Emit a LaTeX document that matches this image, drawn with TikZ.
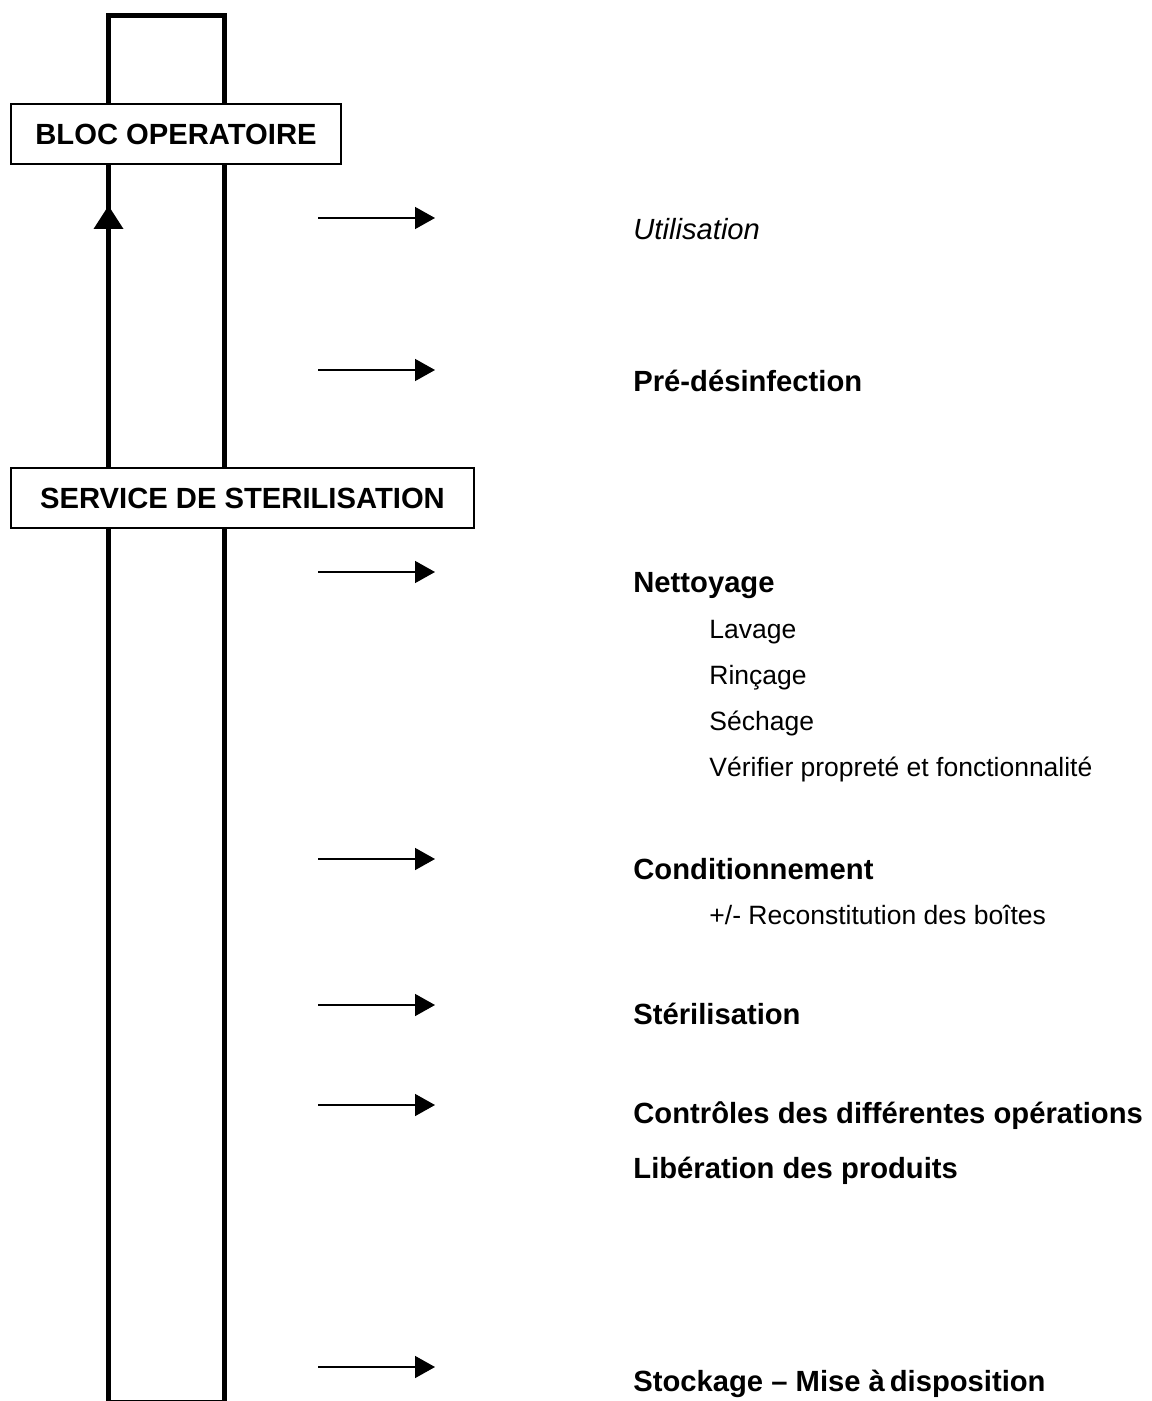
\documentclass[tikz,border=0pt]{standalone}
\usepackage{fontspec}
\setmainfont{Liberation Sans}
\usetikzlibrary{arrows.meta}
\tikzset{
  rail/.style={line width=2.75pt, line cap=butt, line join=miter},
  stagebox/.style={draw, line width=0.6pt, fill=white, inner sep=0pt,
    font=\fontsize{14.6pt}{17pt}\selectfont\bfseries},
  steparrow/.style={line width=0.75pt, -{Triangle[length=10pt,width=11pt]}},
  mainlabel/.style={anchor=base west, inner sep=0pt,
    font=\fontsize{14.6pt}{17pt}\selectfont\bfseries},
  sublabel/.style={anchor=base west, inner sep=0pt,
    font=\fontsize{13.25pt}{16pt}\selectfont},
}
\begin{document}
\begin{tikzpicture}[x=0.5pt,y=-0.5pt]
\useasboundingbox (0,0) rectangle (1151,1401);
\begin{scope}
  \clip (0,0) rectangle (1151,1401);
  \draw[rail] (108.5,1402.5) -- (108.5,15.5) -- (224.5,15.5) -- (224.5,1402.5) -- cycle;
\end{scope}
% upward arrow head on the left rail
\fill (108.5,205.7) -- (123.5,229) -- (93.5,229) -- cycle;

\node[stagebox, minimum width=165pt, minimum height=30pt] (bloc) at (176,134) {BLOC OPERATOIRE};
\node[stagebox, minimum width=231.5pt, minimum height=30pt] (sterile) at (242.5,498) {SERVICE DE STERILISATION};

\foreach \yy/\nn in {218/a,370/b,572/c,859/d,1005/e,1105/f,1367/g}{
  \coordinate (s\nn) at (318,\yy);
  \coordinate (e\nn) at (435,\yy);
  \draw[steparrow] (s\nn) -- (e\nn);
}

\node[mainlabel, font=\fontsize{14.6pt}{17pt}\selectfont\itshape] (util) at (633,240) {Utilisation};
\node[mainlabel] (predes) at (633,391) {Pré-désinfection};
\node[mainlabel] (nett) at (633,592) {Nettoyage};
\node[sublabel] (lav) at (709,638) {Lavage};
\node[sublabel] (rinc) at (709,684) {Rinçage};
\node[sublabel] (sech) at (709,730) {Séchage};
\node[sublabel] (verif) at (709,776) {Vérifier propreté et fonctionnalité};
\node[mainlabel] (cond) at (633,879) {Conditionnement};
\node[sublabel] (recon) at (709,924) {+/- Reconstitution des boîtes};
\node[mainlabel] (steril) at (633,1024) {Stérilisation};
\node[mainlabel] (ctrl) at (633,1123) {Contrôles des différentes opérations};
\node[mainlabel] (liber) at (633,1178) {Libération des produits};
\node[mainlabel] (stock) at (633,1391) {Stockage – Mise à\,disposition};
\end{tikzpicture}
\end{document}
